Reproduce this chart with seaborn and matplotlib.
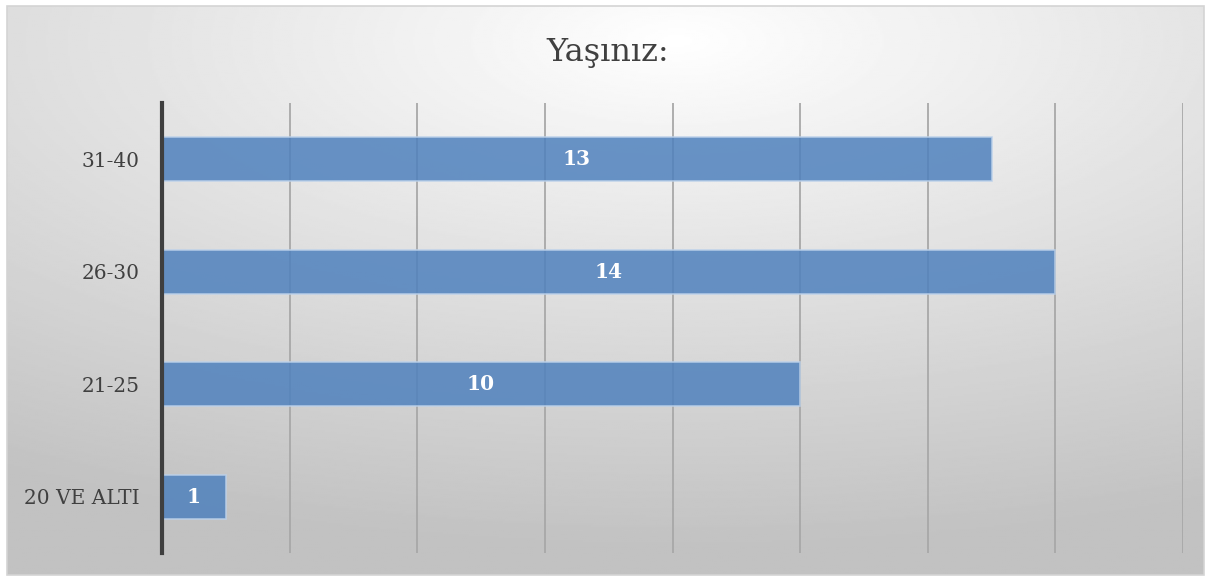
import numpy as np
import pandas as pd
import matplotlib
matplotlib.use("Agg")
import matplotlib.pyplot as plt
import seaborn as sns
from matplotlib.patches import Rectangle

categories = ["31-40", "26-30", "21-25", "20 VE ALTI"]
values = [13, 14, 10, 1]
title = "Yaşınız:"

sns.set_theme(style="white")
plt.rcParams["font.family"] = ["DejaVu Serif"]

W, H = 1209, 581
fig = plt.figure(figsize=(W / 100, H / 100), dpi=100)
fig.patch.set_facecolor("white")

# background gradient panel
bx0, by0, bx1, by1 = 7, 6, 1204, 575
bg = fig.add_axes([bx0 / W, 1 - by1 / H, (bx1 - bx0) / W, (by1 - by0) / H])
bg.set_axis_off()
yy, xx = np.mgrid[0:1:300j, 0:1:600j]
d = np.sqrt(((xx - 0.56) / 1.0) ** 2 + ((yy - 0.06) / 0.85) ** 2)
v = 1.0 - 0.24 * np.clip(d / 1.05, 0, 1) ** 0.95
bg.imshow(v, cmap="gray", vmin=0, vmax=1, aspect="auto", extent=[0, 1, 0, 1], origin="upper")
fig.patches.append(Rectangle((bx0 / W, 1 - by1 / H), (bx1 - bx0) / W, (by1 - by0) / H,
                             transform=fig.transFigure, fill=False, edgecolor="#d4d4d4", lw=1.2))

# main axes
left, right, top, bottom = 162, 1183, 103, 553
ax = fig.add_axes([left / W, 1 - bottom / H, (right - left) / W, (bottom - top) / H])
ax.patch.set_alpha(0)

df = pd.DataFrame({"cat": categories, "val": values})
sns.barplot(data=df, x="val", y="cat", orient="h", color="#4f81bd", width=0.39,
            edgecolor="#bcd1ea", linewidth=1.2, alpha=0.85, saturation=1, ax=ax, zorder=3)
for c in ax.containers:
    ax.bar_label(c, label_type="center", color="white", fontweight="bold", fontsize=14.5)

ax.set_xlim(0, 16)
ax.set_ylim(3.5, -0.5)
ax.set_xticks(range(0, 17, 2))
ax.set_xticklabels([])
ax.tick_params(axis="both", length=0)
ax.tick_params(axis="y", pad=16, labelsize=14.5, labelcolor="#404040")
ax.set_xlabel("")
ax.set_ylabel("")
ax.xaxis.grid(True, color="#a8a8a8", lw=1.3, zorder=0)
ax.set_axisbelow(True)
for s in ["top", "right", "bottom"]:
    ax.spines[s].set_visible(False)
ax.spines["left"].set_color("#3f3f3f")
ax.spines["left"].set_linewidth(3)
ax.spines["left"].set_zorder(5)

fig.text(608 / W, 1 - 52 / H, title, ha="center", va="center", fontsize=23, color="#404040")

fig.savefig("out.png", dpi=100)
